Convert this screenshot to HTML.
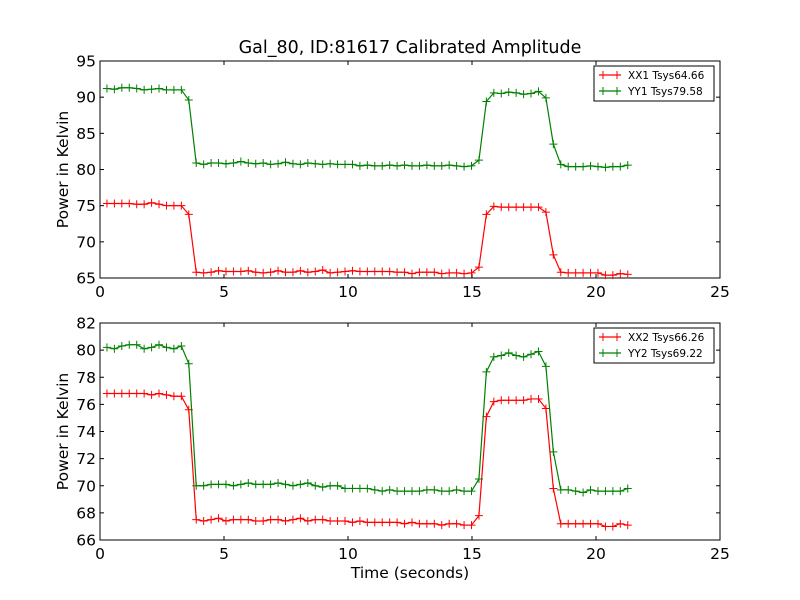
<!DOCTYPE html>
<html><head><meta charset="utf-8"><style>
body{margin:0;background:#fff}
svg{display:block;font-family:"DejaVu Sans","Liberation Sans",sans-serif}
</style></head><body>
<svg id="c" width="800" height="600" viewBox="0 0 800 600">
<rect width="800" height="600" fill="#fff"/>
<text x="410" y="53" font-size="17.5" text-anchor="middle">Gal_80, ID:81617 Calibrated Amplitude</text>
<text x="410" y="578" font-size="15.5" text-anchor="middle">Time (seconds)</text>
</svg>
<script>
const times = [];
for (let i = 0; i < 71; i++) times.push(0.28 + i * 0.3);
const xxTop = [75.3,75.3,75.3,75.3,75.2,75.2,75.4,75.2,75.0,75.0,75.0,73.8,
65.8,65.7,65.8,66.0,65.9,65.9,65.9,66.0,65.8,65.7,65.8,66.0,65.8,65.8,66.0,65.8,65.9,66.1,65.7,65.8,65.9,66.0,65.9,65.9,65.9,65.9,65.9,65.8,65.8,65.6,65.8,65.8,65.8,65.6,65.7,65.7,65.6,65.7,
66.5,73.8,74.9,74.8,74.8,74.8,74.8,74.8,74.8,74.1,68.2,65.8,65.7,65.7,65.7,65.7,65.7,65.4,65.4,65.6,65.5];
const yyTop = [91.2,91.1,91.3,91.3,91.2,91.0,91.1,91.2,91.0,91.0,91.0,89.6,
80.9,80.7,80.9,80.9,80.8,80.9,81.1,80.9,80.8,80.9,80.7,80.8,81.0,80.8,80.7,80.9,80.8,80.7,80.8,80.7,80.7,80.7,80.5,80.6,80.5,80.5,80.6,80.5,80.6,80.5,80.5,80.6,80.5,80.5,80.6,80.5,80.4,80.5,
81.3,89.4,90.6,90.5,90.7,90.6,90.4,90.5,90.8,89.9,83.5,80.7,80.4,80.4,80.4,80.5,80.4,80.3,80.4,80.4,80.6];
const xxBot = [76.8,76.8,76.8,76.8,76.8,76.8,76.7,76.8,76.7,76.6,76.6,75.6,
67.5,67.4,67.5,67.6,67.4,67.5,67.5,67.5,67.4,67.4,67.5,67.5,67.4,67.5,67.6,67.4,67.5,67.5,67.4,67.4,67.4,67.3,67.4,67.3,67.3,67.3,67.3,67.3,67.2,67.3,67.2,67.2,67.2,67.1,67.2,67.2,67.1,67.1,
67.8,75.1,76.2,76.3,76.3,76.3,76.3,76.4,76.4,75.7,69.8,67.2,67.2,67.2,67.2,67.2,67.2,67.0,67.0,67.2,67.1];
const yyBot = [80.2,80.1,80.3,80.4,80.4,80.1,80.2,80.4,80.2,80.1,80.3,79.0,
70.0,70.0,70.1,70.1,70.1,70.0,70.1,70.2,70.1,70.1,70.1,70.2,70.1,70.0,70.1,70.2,70.0,69.9,70.0,70.0,69.8,69.8,69.8,69.8,69.7,69.6,69.7,69.6,69.6,69.6,69.6,69.7,69.7,69.6,69.6,69.7,69.6,69.6,
70.5,78.4,79.5,79.6,79.8,79.6,79.5,79.7,79.9,78.8,72.5,69.7,69.7,69.6,69.5,69.7,69.6,69.6,69.6,69.6,69.8];
const xTicks = [0,5,10,15,20,25];
const topYTicks = [65,70,75,80,85,90,95];
const botYTicks = [66,68,70,72,74,76,78,80,82];
const topLegend = ["XX1 Tsys64.66","YY1 Tsys79.58"];
const botLegend = ["XX2 Tsys66.26","YY2 Tsys69.22"];

const NS = "http://www.w3.org/2000/svg";
const svg = document.getElementById('c');
function mk(tag, attrs, parent) {
  const e = document.createElementNS(NS, tag);
  for (const k in attrs) e.setAttribute(k, attrs[k]);
  (parent || svg).appendChild(e);
  return e;
}
function panel(name, top, bottom, ymin, ymax, yTicks, xx, yy, legend) {
  const L = 100, R = 720;
  const g = mk('g', {});
  
  
  const sx = v => L + (v - 0) / 25 * (R - L);
  const sy = v => bottom - (v - ymin) / (ymax - ymin) * (bottom - top);
  const frame = mk('rect', {x: L, y: top, width: R - L, height: bottom - top, fill: '#fff', stroke: '#000', 'stroke-width': 1}, g);
  
  
  xTicks.forEach(t => {
    const x = sx(t);
    mk('line', {x1: x, x2: x, y1: bottom, y2: bottom - 4, stroke: '#000'}, g);
    mk('line', {x1: x, x2: x, y1: top, y2: top + 4, stroke: '#000'}, g);
    const lb = mk('text', {x: x, y: bottom + 19, 'font-size': 15.5, 'text-anchor': 'middle'}, g);
    lb.textContent = t;
    
    
  });
  yTicks.forEach(t => {
    const y = sy(t);
    mk('line', {x1: L, x2: L + 4, y1: y, y2: y, stroke: '#000'}, g);
    mk('line', {x1: R, x2: R - 4, y1: y, y2: y, stroke: '#000'}, g);
    const lb = mk('text', {x: L - 4, y: y + 5.5, 'font-size': 15.5, 'text-anchor': 'end'}, g);
    lb.textContent = t;
    
    
  });
  const yt = mk('text', {x: 0, y: 0, 'font-size': 15.5, 'text-anchor': 'middle', transform: `translate(68,${(top + bottom) / 2}) rotate(-90)`}, g);
  yt.textContent = 'Power in Kelvin';
  
  
  [[xx, 'red', 'xx-series'], [yy, 'green', 'yy-series']].forEach(([arr, col, nm]) => {
    const pts = arr.map((v, i) => sx(times[i]).toFixed(2) + ',' + sy(v).toFixed(2)).join(' ');
    const pl = mk('polyline', {points: pts, fill: 'none', stroke: col, 'stroke-width': 1.2}, g);
    
    
    arr.forEach((v, i) => {
      const x = sx(times[i]), y = sy(v);
      const m = mk('path', {d: `M${x - 4},${y}H${x + 4}M${x},${y - 4}V${y + 4}`, stroke: col, 'stroke-width': 1}, g);
      
      
    });
  });
  const lg = mk('g', {}, g);
  
  
  mk('rect', {x: 594, y: top + 5, width: 120, height: 35, fill: '#fff', stroke: '#000'}, lg);
  legend.forEach((txt, k) => {
    const col = k === 0 ? 'red' : 'green';
    const y = top + 14 + k * 16;
    mk('line', {x1: 599, x2: 621, y1: y, y2: y, stroke: col, 'stroke-width': 1.2}, lg);
    mk('path', {d: `M603,${y - 4}V${y + 4}M617,${y - 4}V${y + 4}`, stroke: col}, lg);
    const t = mk('text', {x: 628, y: y + 4, 'font-size': 10.5}, lg);
    t.textContent = txt;
    
    
  });
}
panel('top-panel', 61, 278, 65, 95, topYTicks, xxTop, yyTop, topLegend);
panel('bottom-panel', 323, 540, 66, 82, botYTicks, xxBot, yyBot, botLegend);
</script>
</body></html>
